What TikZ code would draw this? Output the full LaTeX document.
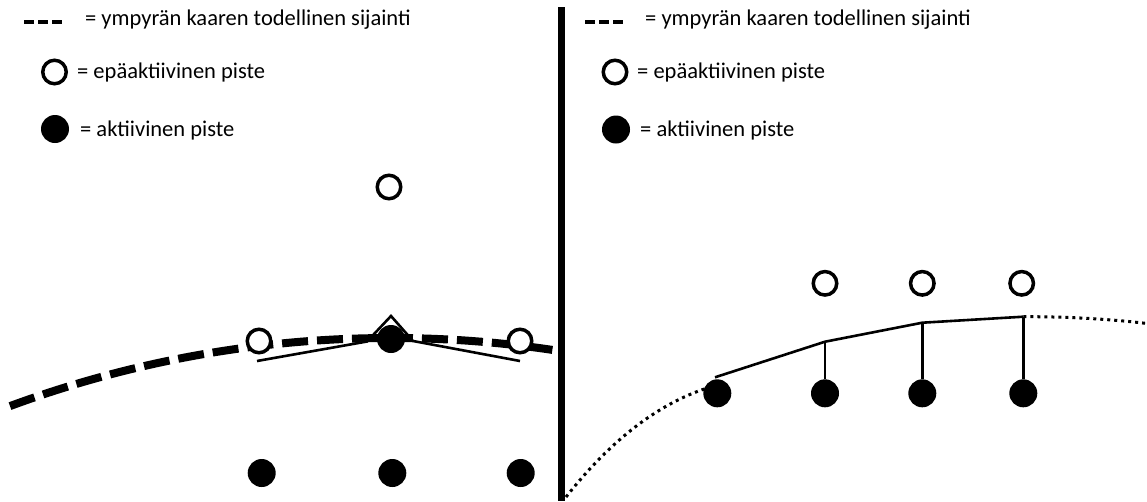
\documentclass[tikz,border=0pt]{standalone}
\usepackage{fontspec}
\setmainfont{Carlito}
\begin{document}
\begin{tikzpicture}[x=1pt,y=-1pt,
  opendot/.style={circle,draw=black,fill=white,line width=3.5pt,minimum size=23.5pt,inner sep=0pt},
  fulldot/.style={circle,fill=black,minimum size=28pt,inner sep=0pt},
  legtext/.style={anchor=base west,inner sep=0pt,font=\fontsize{22.5}{27}\selectfont},
  legdash/.style={line width=3.5pt,dash pattern=on 10pt off 4pt},
  arcdash/.style={line width=8pt,dash pattern=on 26pt off 9pt},
  arcdot/.style={line width=3pt,dash pattern=on 3pt off 4pt},
  chord/.style={line width=2.6pt,line join=miter},
  drop/.style={line width=2.6pt}]
\useasboundingbox (0,0) rectangle (1147,501);
\fill[white] (0,0) rectangle (1147,501);

% divider
\coordinate (dtop) at (561.5,7);
\coordinate (dbot) at (561.5,501);
\draw[line width=7pt] (dtop) -- (dbot);

% ---------- left legend ----------
\coordinate (lda) at (24,22);
\coordinate (ldb) at (62,22);
\draw[legdash] (lda) -- (ldb);
\node[legtext] (lt1) at (85,25) {= ympyrän kaaren todellinen sijainti};
\node[opendot] (lo) at (54.5,72) {};
\node[legtext] (lt2) at (77,78) {= epäaktiivinen piste};
\node[fulldot] (lf) at (55,129) {};
\node[legtext] (lt3) at (80,136) {= aktiivinen piste};

% ---------- right legend ----------
\coordinate (rda) at (585,22);
\coordinate (rdb) at (623,22);
\draw[legdash] (rda) -- (rdb);
\node[legtext] (rt1) at (645,25) {= ympyrän kaaren todellinen sijainti};
\node[opendot] (ro) at (615,72) {};
\node[legtext] (rt2) at (637,78) {= epäaktiivinen piste};
\node[fulldot] (rf) at (616,129.5) {};
\node[legtext] (rt3) at (640,136) {= aktiivinen piste};

% ---------- left diagram ----------
\draw[arcdash] plot[domain=10:556,samples=80] (\x,{338+100*(11-sqrt(121-((\x-391)/100)^2))});
\coordinate (p1) at (257,361);
\coordinate (p2) at (367,341.5);
\coordinate (p3) at (391,316);
\coordinate (p4) at (413,341);
\coordinate (p5) at (520,361);
\draw[chord] (p1) -- (p2) -- (p3) -- (p4) -- (p5);
\node[opendot] (ltop) at (389,187) {};
\node[opendot] (lo1) at (259,341) {};
\node[fulldot] (lf0) at (391,339) {};
\node[opendot] (lo2) at (520,341) {};
\node[fulldot] (lb1) at (261.7,473) {};
\node[fulldot] (lb2) at (392.3,473) {};
\node[fulldot] (lb3) at (520.7,473) {};

% ---------- right diagram ----------
\coordinate (da) at (566,497);
\coordinate (db) at (714,386);
\coordinate (dc) at (1023.3,316.7);
\coordinate (dd) at (1147,323.5);
\draw[arcdot] (da) .. controls (614,436) and (664,400) .. (db);
\draw[arcdot] (dc) .. controls (1065,316.5) and (1110,319) .. (dd);
\coordinate (q1) at (715,377.3);
\coordinate (q2) at (825,341.7);
\coordinate (q3) at (922.3,322.7);
\coordinate (q4) at (1023.3,316.7);
\draw[chord] (q1) -- (q2) -- (q3) -- (q4);
\node[opendot] (ro1) at (825,283.3) {};
\node[opendot] (ro2) at (922.3,283.3) {};
\node[opendot] (ro3) at (1021.7,283.3) {};
\node[fulldot] (rf1) at (717.3,393.3) {};
\node[fulldot] (rf2) at (825,393.3) {};
\node[fulldot] (rf3) at (922.3,393.3) {};
\node[fulldot] (rf4) at (1023.3,393.3) {};
\draw[drop] (q2) -- (rf2);
\draw[drop] (q3) -- (rf3);
\draw[drop] (q4) -- (rf4);
\end{tikzpicture}
\end{document}
